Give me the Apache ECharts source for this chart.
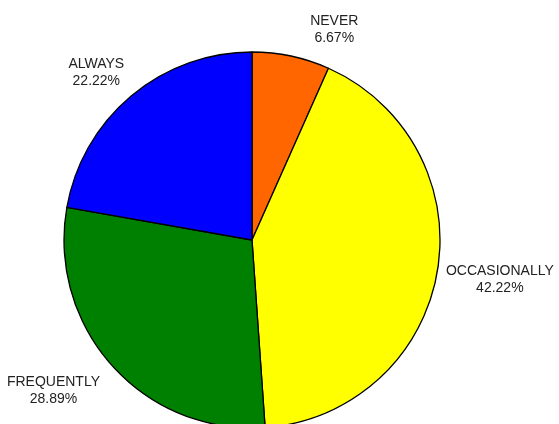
<!DOCTYPE html>
<html>
<head>
<meta charset="utf-8">
<script src="https://cdn.jsdelivr.net/npm/echarts@6/dist/echarts.min.js"></script>
<style>html,body{margin:0;padding:0;background:#fff}#c{width:559px;height:424px}</style>
</head>
<body>
<div id="c"></div>
<script>
const categories = ['NEVER', 'OCCASIONALLY', 'FREQUENTLY', 'ALWAYS'];
const counts = [3, 19, 13, 10];
const colors = ['#FF6600', '#FFFF00', '#008000', '#0000FF'];
// small per-label nudges (pixels) to match the reference placement
const labelNudgeX = [-1, 3, -4, 18];
const labelNudgeY = [-7, 4, 11, -8];

const chart = echarts.init(document.getElementById('c'), null, {renderer: 'canvas'});
chart.setOption({
  animation: false,
  backgroundColor: '#ffffff',
  series: [{
    type: 'pie',
    center: [252, 240],
    radius: 188,
    startAngle: 90,
    clockwise: true,
    avoidLabelOverlap: false,
    percentPrecision: 2,
    data: categories.map((c, i) => ({name: c, value: counts[i], itemStyle: {color: colors[i]}})),
    itemStyle: {borderColor: '#000', borderWidth: 1.3},
    emphasis: {disabled: true},
    label: {
      show: true,
      position: 'outside',
      formatter: '{b}\n{d}%',
      fontFamily: 'Liberation Sans',
      fontSize: 14,
      lineHeight: 17,
      color: '#222',
      distance: 0
    },
    labelLine: {show: false, length: 20, length2: 35},
    labelLayout: function (p) {
      return {align: 'center', verticalAlign: 'middle', dx: labelNudgeX[p.dataIndex], dy: labelNudgeY[p.dataIndex]};
    }
  }]
});
</script>
</body>
</html>
